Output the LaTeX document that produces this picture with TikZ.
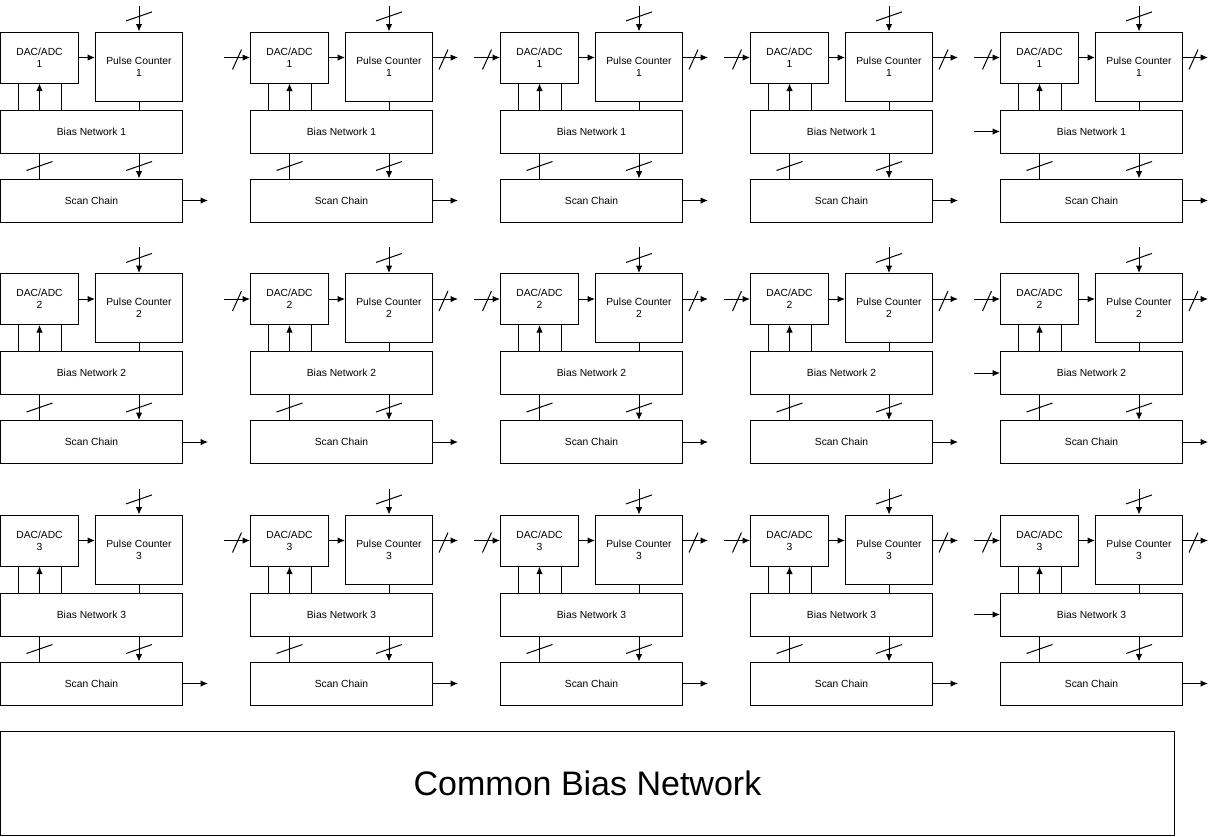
\documentclass[tikz,border=0pt]{standalone}
\usepackage{fontspec}
\setmainfont{Liberation Sans}
\usetikzlibrary{calc}
\usetikzlibrary{arrows.meta}
\usetikzlibrary{positioning}
\tikzset{>={Latex[length=7.5pt,width=6.5pt]}}
\tikzstyle{blk} = [rectangle, draw=black, line width=1pt, inner sep=0, align=center, font=\fontsize{10.3}{12}\selectfont]
\tikzstyle{wire} = [line width=1pt, draw=black]
\tikzset{vbus/.pic={\draw [-, line width=1pt] (-13,4.5) -- (13,-4.5);}}
\tikzset{hbus/.pic={\draw [-, line width=1pt] (-4.5,12) -- (4.5,-8);}}

\begin{document}
\begin{tikzpicture}[x=1pt, y=-1pt]
\useasboundingbox (-0.5,0) rectangle (1216.5,836);
\foreach \c in {0,...,4} {
\foreach \r/\n in {0/1,1/2,2/3} {
\begin{scope}[shift={(250*\c,241.5*\r)}]
\node [blk, minimum width=78, minimum height=51] (dac-\c-\r) at (39,57.5) {DAC/ADC\\\n};
\node [blk, minimum width=87, minimum height=69] (pc-\c-\r) at (138.5,66.5) {Pulse Counter\\\n};
\node [blk, minimum width=182, minimum height=43] (bias-\c-\r) at (91,131.5) {Bias Network \n};
\node [blk, minimum width=182, minimum height=43] (scan-\c-\r) at (91,200.5) {Scan Chain};
% dac to counter, bias lines
\draw [->, wire] (dac-\c-\r.east) -- (dac-\c-\r.east -| pc-\c-\r.west);
\coordinate (tl-\c-\r) at ($(dac-\c-\r.south)+(-21,0)$);
\coordinate (tr-\c-\r) at ($(dac-\c-\r.south)+(22,0)$);
\draw [wire] (tl-\c-\r |- bias-\c-\r.north) -- (tl-\c-\r);
\draw [->, wire] (dac-\c-\r.south |- bias-\c-\r.north) -- (dac-\c-\r.south);
\draw [wire] (tr-\c-\r |- bias-\c-\r.north) -- (tr-\c-\r);
\draw [wire] (pc-\c-\r.south) -- (pc-\c-\r.south |- bias-\c-\r.north);
% bus into counter
\coordinate (top-\c-\r) at ($(pc-\c-\r.north)+(0,-26)$);
\draw [->, wire] (top-\c-\r) -- pic [pos=0.42] {vbus} (pc-\c-\r.north);
% bias to scan chain
\draw [wire] (dac-\c-\r.south |- bias-\c-\r.south) -- pic {vbus} (dac-\c-\r.south |- scan-\c-\r.north);
\draw [->, wire] (pc-\c-\r.south |- bias-\c-\r.south) -- pic {vbus} (pc-\c-\r.south |- scan-\c-\r.north);
\coordinate (sout-\c-\r) at ($(scan-\c-\r.east)+(25,0)$);
\draw [->, wire] (scan-\c-\r.east) -- (sout-\c-\r);
\ifnum\c>0
\coordinate (din-\c-\r) at ($(dac-\c-\r.west)+(-26,0)$);
\draw [->, wire] (din-\c-\r) -- pic {hbus} (dac-\c-\r.west);
\coordinate (pout-\c-\r) at (dac-\c-\r.east -| pc-\c-\r.east);
\coordinate (pend-\c-\r) at ($(pout-\c-\r)+(25,0)$);
\draw [->, wire] (pout-\c-\r) -- pic [pos=0.42] {hbus} (pend-\c-\r);
\fi
\ifnum\c=4
\coordinate (bin-\c-\r) at ($(bias-\c-\r.west)+(-26,0)$);
\draw [->, wire] (bin-\c-\r) -- (bias-\c-\r.west);
\fi
\end{scope}
}}
\node [blk, minimum width=1174, minimum height=104, font=\fontsize{34}{40}\selectfont] (common) at (587,783) {Common Bias Network};
\end{tikzpicture}
\end{document}
